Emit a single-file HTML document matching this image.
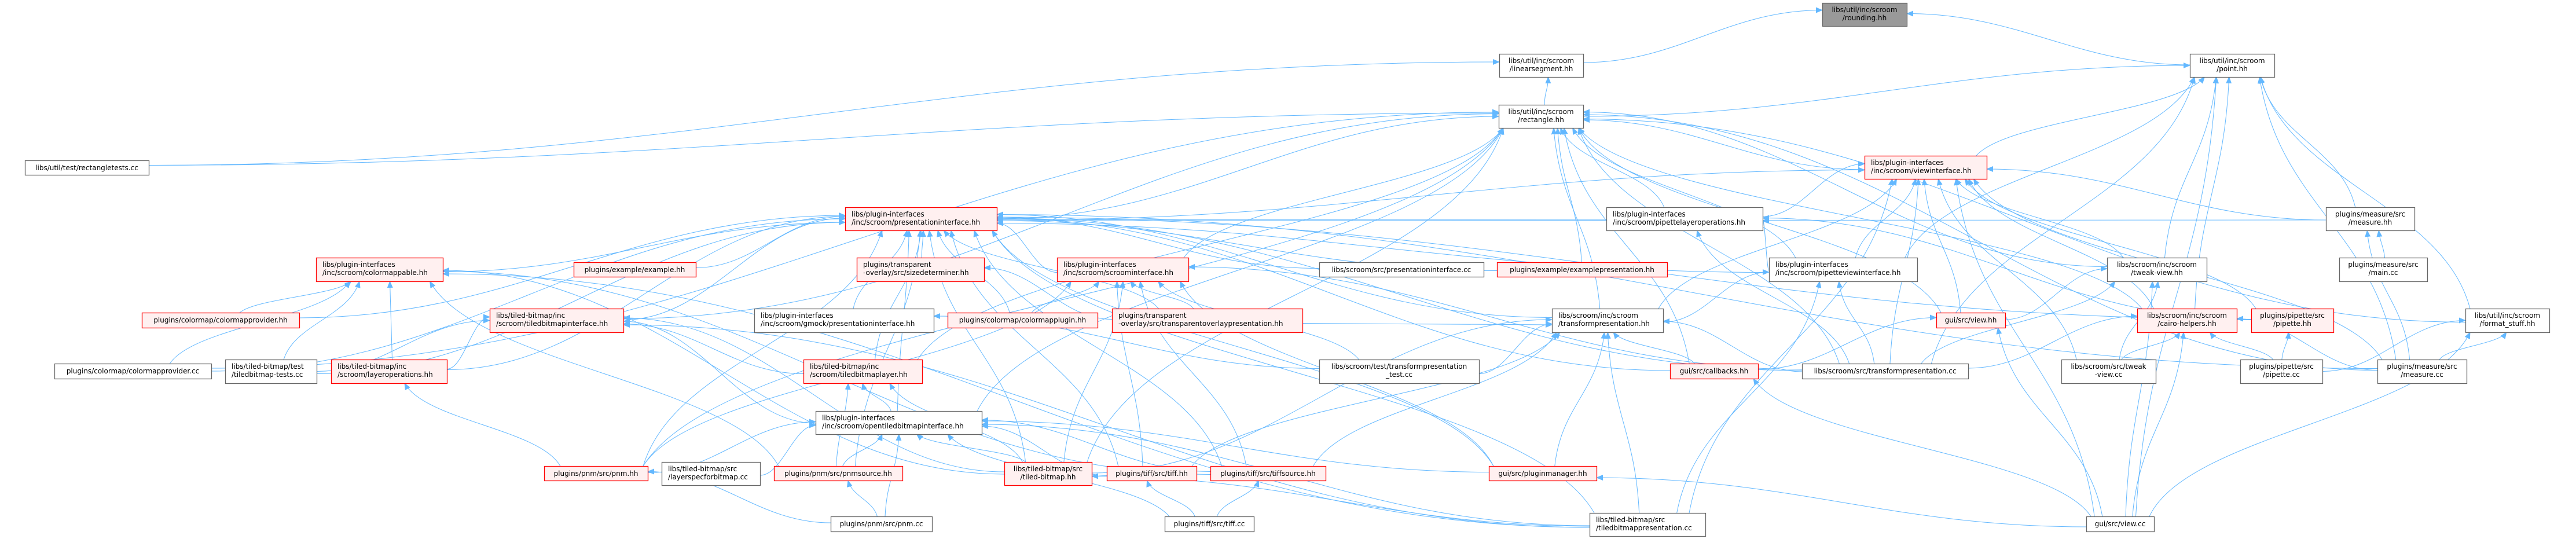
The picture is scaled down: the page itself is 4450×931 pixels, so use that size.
<!DOCTYPE html>
<html><head><meta charset="utf-8">
<style>
html,body{margin:0;padding:0;background:#fff;}
svg{display:block;}
text{font-family:"DejaVu Sans","Liberation Sans",sans-serif;font-size:12px;fill:#000;}
</style></head>
<body>
<svg id="g" width="4450" height="931" viewBox="0 0 4450 931" xmlns="http://www.w3.org/2000/svg">
<defs>
<marker id="ah" markerWidth="12" markerHeight="10" refX="11" refY="5" orient="auto" markerUnits="userSpaceOnUse">
<path d="M0,0 L12,5 L0,10 z" fill="#63b8ff"/>
</marker>
</defs>
<g id="edges" fill="none" stroke="#63b8ff" stroke-width="1"></g>
<g id="nodes"></g>
</svg>
<script>
var N={
rnd:[3148,5,3294,45,2,"libs/util/inc/scroom","/rounding.hh","c"],
lin:[2590,93,2735,133,0,"libs/util/inc/scroom","/linearsegment.hh","c"],
pt:[3783,93,3929,133,0,"libs/util/inc/scroom","/point.hh","c"],
rect:[2589,181,2735,221,0,"libs/util/inc/scroom","/rectangle.hh","c"],
rtc:[43,277,257,302,0,"libs/util/test/rectangletests.cc","","c"],
vi:[3221,269,3432,309,1,"libs/plugin-interfaces","/inc/scroom/viewinterface.hh","l"],
pi:[1460,358,1722,398,1,"libs/plugin-interfaces","/inc/scroom/presentationinterface.hh","l"],
pl:[2775,358,3045,398,0,"libs/plugin-interfaces","/inc/scroom/pipettelayeroperations.hh","l"],
mh:[4018,358,4171,398,0,"plugins/measure/src","/measure.hh","c"],
cm:[546,445,765,486,1,"libs/plugin-interfaces","/inc/scroom/colormappable.hh","l"],
ex:[991,453,1202,478,1,"plugins/example/example.hh","","c"],
sd:[1480,445,1700,486,1,"plugins/transparent","-overlay/src/sizedeterminer.hh","l"],
si:[1826,445,2053,486,1,"libs/plugin-interfaces","/inc/scroom/scroominterface.hh","l"],
pic:[2279,453,2563,478,0,"libs/scroom/src/presentationinterface.cc","","c"],
ep:[2586,453,2880,478,1,"plugins/example/examplepresentation.hh","","c"],
pv:[3056,445,3312,486,0,"libs/plugin-interfaces","/inc/scroom/pipetteviewinterface.hh","l"],
tv:[3640,445,3812,486,0,"libs/scroom/inc/scroom","/tweak-view.hh","c"],
mc:[4041,445,4193,486,0,"plugins/measure/src","/main.cc","c"],
cp:[245,540,517,566,1,"plugins/colormap/colormapprovider.hh","","c"],
tbi:[846,533,1077,574,1,"libs/tiled-bitmap/inc","/scroom/tiledbitmapinterface.hh","l"],
gm:[1303,533,1613,574,0,"libs/plugin-interfaces","/inc/scroom/gmock/presentationinterface.hh","l"],
cmp:[1637,540,1896,566,1,"plugins/colormap/colormapplugin.hh","","c"],
tr:[1921,533,2250,574,1,"plugins/transparent","-overlay/src/transparentoverlaypresentation.hh","l"],
tp:[2681,533,2873,574,0,"libs/scroom/inc/scroom","/transformpresentation.hh","l"],
vh:[3345,540,3464,566,1,"gui/src/view.hh","","c"],
ch:[3692,533,3864,574,1,"libs/scroom/inc/scroom","/cairo-helpers.hh","c"],
ph:[3889,533,4031,574,1,"plugins/pipette/src","/pipette.hh","c"],
fs:[4259,533,4404,574,0,"libs/util/inc/scroom","/format_stuff.hh","c"],
cpc:[94,628,365,654,0,"plugins/colormap/colormapprovider.cc","","c"],
tbt:[389,621,547,662,0,"libs/tiled-bitmap/test","/tiledbitmap-tests.cc","l"],
lo:[572,621,772,662,1,"libs/tiled-bitmap/inc","/scroom/layeroperations.hh","l"],
tbl:[1388,621,1593,662,1,"libs/tiled-bitmap/inc","/scroom/tiledbitmaplayer.hh","l"],
tpt:[2279,621,2555,662,0,"libs/scroom/test/transformpresentation","_test.cc","c"],
cb:[2885,628,3037,654,1,"gui/src/callbacks.hh","","c"],
tpc:[3113,628,3400,654,0,"libs/scroom/src/transformpresentation.cc","","c"],
tvc:[3561,621,3724,662,0,"libs/scroom/src/tweak","-view.cc","c"],
pc:[3870,621,4012,662,0,"plugins/pipette/src","/pipette.cc","c"],
msc:[4107,621,4261,662,0,"plugins/measure/src","/measure.cc","c"],
ot:[1409,710,1696,750,0,"libs/plugin-interfaces","/inc/scroom/opentiledbitmapinterface.hh","l"],
pnh:[940,805,1119,830,1,"plugins/pnm/src/pnm.hh","","c"],
ls:[1143,798,1313,838,0,"libs/tiled-bitmap/src","/layerspecforbitmap.cc","l"],
ps:[1337,805,1559,830,1,"plugins/pnm/src/pnmsource.hh","","c"],
tb:[1735,798,1886,838,1,"libs/tiled-bitmap/src","/tiled-bitmap.hh","c"],
th:[1912,805,2067,830,1,"plugins/tiff/src/tiff.hh","","c"],
ts:[2091,805,2290,830,1,"plugins/tiff/src/tiffsource.hh","","c"],
pm:[2572,805,2758,830,1,"gui/src/pluginmanager.hh","","c"],
pnc:[1435,892,1610,918,0,"plugins/pnm/src/pnm.cc","","c"],
tc:[2012,892,2166,918,0,"plugins/tiff/src/tiff.cc","","c"],
tbp:[2746,886,2946,926,0,"libs/tiled-bitmap/src","/tiledbitmappresentation.cc","l"],
vc:[3604,892,3721,918,0,"gui/src/view.cc","","c"]
};
var E="lin>rnd pt>rnd rect>lin rtc>lin rect>pt vi>pt tv>pt ch>pt mh>pt fs>pt msc>pt tpc>pt vc>pt pv>pt "+
"rtc>rect pi>rect vi>rect tbi>rect pl>rect ep>rect pv>rect tp>rect tv>rect ch>rect fs>rect vh>rect ot>rect tbl>rect tb>rect cb>rect tpc>rect msc>rect si>rect cpc>rect pnh>rect "+
"pi>vi pl>vi pv>vi tp>vi vh>vi tv>vi ch>vi ph>vi mh>vi msc>vi tpc>vi vc>vi tvc>vi tbp>vi "+
"cm>pi ex>pi sd>pi si>pi gm>pi cmp>pi tr>pi tbi>pi tbl>pi ot>pi pnh>pi ps>pi tb>pi th>pi ts>pi pic>pi ep>pi tp>pi cb>pi pm>pi cp>pi cpc>pi tbt>pi lo>pi pl>pi pv>pi ph>pi mh>pi msc>pi tpc>pi tbp>pi "+
"cp>cm cpc>cm lo>cm tbt>cm tb>cm tbp>cm ps>cm ts>cm "+
"cmp>si tr>si pm>si th>si ts>si tb>si tpc>si tpt>si pnh>si tr>sd pv>pl tpc>pl ph>pl tp>pv tpc>pv tbp>pv "+
"tpt>tp cb>tp tpc>tp tr>tp tbp>tp pm>tp ts>tp tb>tp th>tp "+
"lo>tbi tbt>tbi tbl>tbi tb>tbi ot>tbi tbp>tbi ot>tbl tb>tbl ps>tbl "+
"pnh>ot ls>ot ps>ot tb>ot th>ot ts>ot pnc>ot tc>ot pm>ot tbp>ot tpt>gm "+
"vh>tv tvc>tv tpc>tv vc>tv vc>vh cb>vh tvc>ch pc>ch msc>ch vc>ch tpc>ch pc>ph mc>mh msc>mh pc>fs msc>fs vc>fs "+
"vc>cb vc>pm pnc>pnh pnc>ps tc>th tc>ts tbp>tb pnh>lo";
var NS="http://www.w3.org/2000/svg";
var eg=document.getElementById("edges"), ng=document.getElementById("nodes");
function cl(v,a,b){return Math.max(a,Math.min(b,v));}
E.split(" ").forEach(function(e,i){
  var p=e.split(">"),s=N[p[0]],t=N[p[1]];if(!s||!t)return;
  var scx=(s[0]+s[2])/2,scy=(s[1]+s[3])/2,tcx=(t[0]+t[2])/2,tcy=(t[1]+t[3])/2;
  var dx=tcx-scx,dy=s[1]-t[3],d;
  var j=((i*37)%11-5);
  if(dy>8 && Math.abs(dx)<3.2*dy+120){
    var sx=cl(scx+dx*0.15+j*2,s[0]+8,s[2]-8), sy=s[1];
    var tx=cl(tcx-dx*0.12+j*4,t[0]+8,t[2]-8), ty=t[3];
    var k=(sy-ty)*0.45;
    d="M"+sx+","+sy+" C"+(sx+dx*0.1)+","+(sy-k)+" "+(tx-dx*0.1)+","+(ty+k)+" "+tx+","+ty;
  } else {
    var sx,tx,sy=cl(scy+j,s[1]+4,s[3]-4),ty=cl(tcy+j*1.5,t[1]+5,t[3]-5);
    if(dx>0){sx=s[2];tx=t[0];}else{sx=s[0];tx=t[2];}
    var h=(tx-sx)*0.4;
    d="M"+sx+","+sy+" C"+(sx+h)+","+(sy)+" "+(tx-h)+","+(ty)+" "+tx+","+ty;
  }
  var pa=document.createElementNS(NS,"path");pa.setAttribute("d",d);pa.setAttribute("marker-end","url(#ah)");eg.appendChild(pa);
});
for(var k in N){
  var n=N[k],r=document.createElementNS(NS,"rect");
  r.setAttribute("x",n[0]+0.5);r.setAttribute("y",n[1]+0.5);r.setAttribute("width",n[2]-n[0]);r.setAttribute("height",n[3]-n[1]);
  r.setAttribute("fill",n[4]==1?"#fff0f0":(n[4]==2?"#999999":"#ffffff"));
  r.setAttribute("stroke",n[4]==1?"#ff0000":"#666666");r.setAttribute("stroke-width","1.3");
  ng.appendChild(r);
  var cx=(n[0]+n[2])/2;
  function tx(str,y){var t=document.createElementNS(NS,"text");t.textContent=str;
    if(n[7]=="l"){t.setAttribute("x",n[0]+11);}else{t.setAttribute("x",cx);t.setAttribute("text-anchor","middle");}
    t.setAttribute("y",y);ng.appendChild(t);}
  if(n[6]){tx(n[5],n[1]+16);tx(n[6],n[1]+30);}else{tx(n[5],n[1]+17);}
}
</script>
</body></html>
